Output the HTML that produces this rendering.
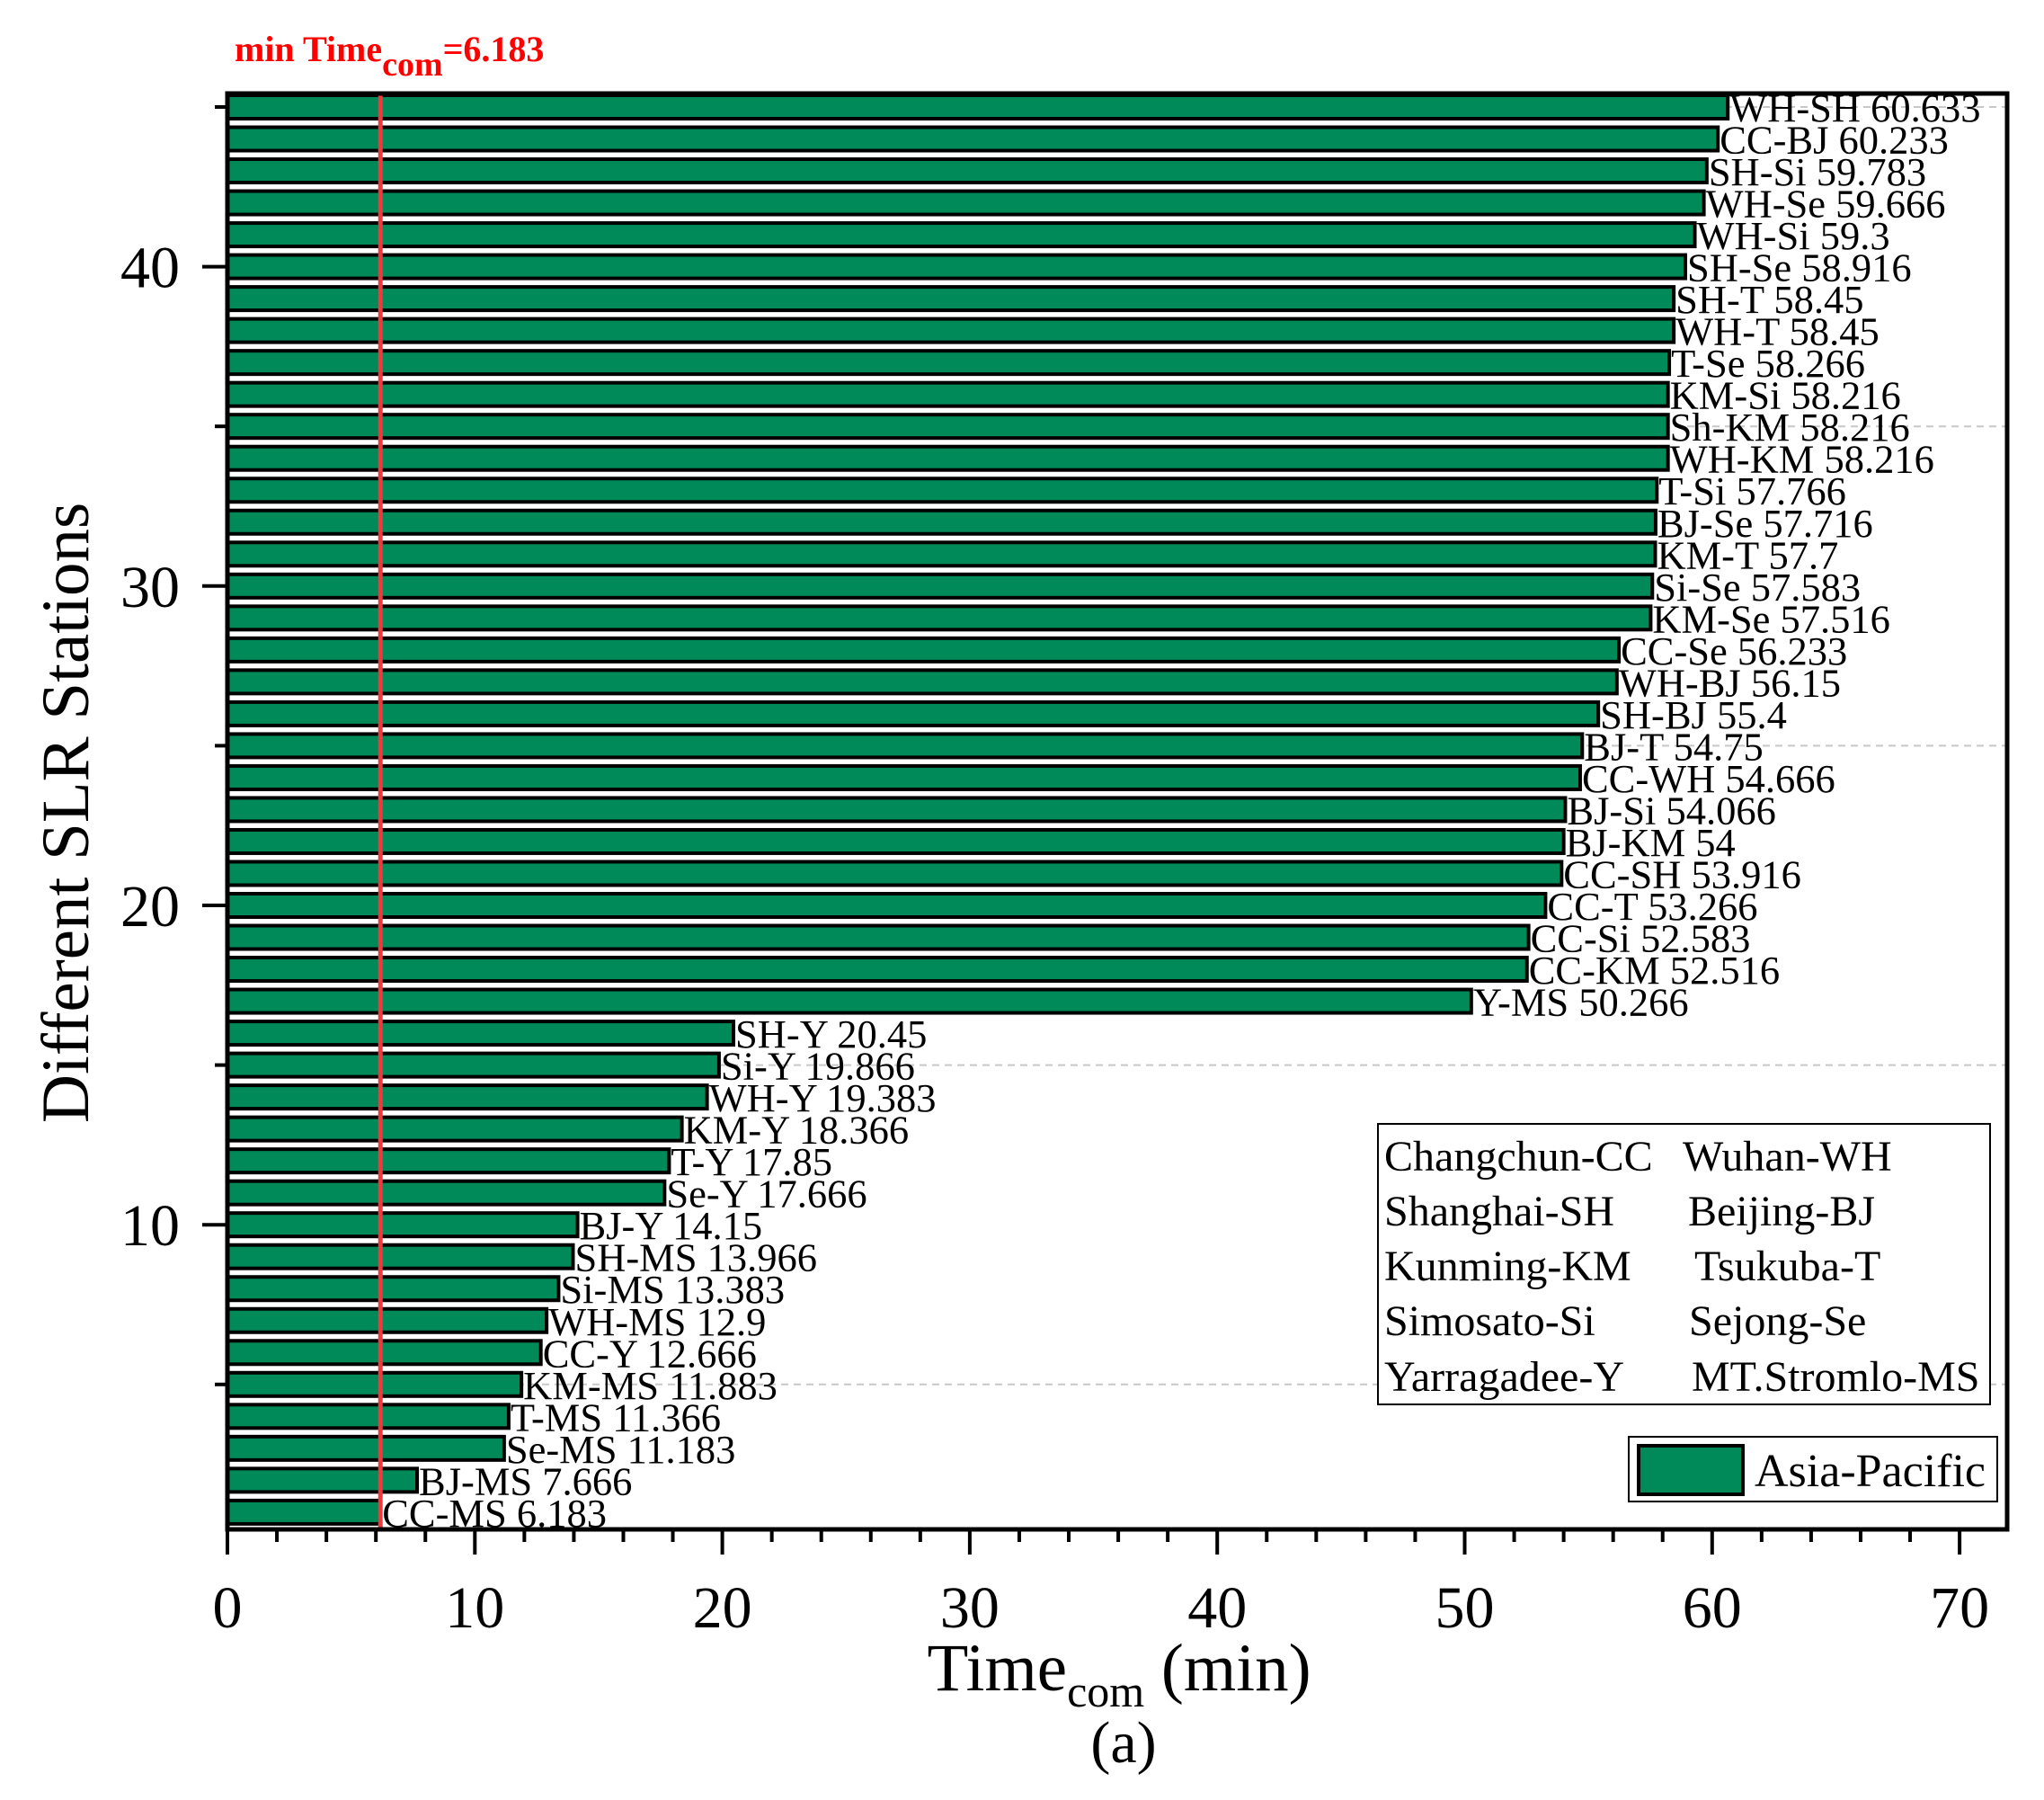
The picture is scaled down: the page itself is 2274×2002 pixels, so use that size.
<!DOCTYPE html>
<html><head><meta charset="utf-8"><style>
html,body{margin:0;padding:0;background:#fff;}
svg{display:block;font-family:"Liberation Serif",serif;}
</style></head><body>
<svg id="chart" width="2274" height="2002" viewBox="0 0 2274 2002">
<g id="grid"></g>
<g id="bars"></g>
<g id="labels"></g>
<g id="axes"></g>
<text x="261" y="68" font-size="40" font-weight="bold" fill="#ff0000">min Time<tspan dy="16" font-size="38">com</tspan><tspan dy="-16">=6.183</tspan></text>
<text x="1245" y="1880" font-size="75" text-anchor="middle">Time<tspan dy="18" font-size="50">com</tspan><tspan dy="-18"> (min)</tspan></text>
<text x="1250" y="1960" font-size="66" text-anchor="middle">(a)</text>
<text transform="translate(98,904) rotate(-90)" font-size="75" text-anchor="middle">Different SLR Stations</text>
<g>
<rect x="1533" y="1250" width="681" height="312" fill="#fff" stroke="#000" stroke-width="2"/>
<g font-size="48">
<text x="1540" y="1302">Changchun-CC</text><text x="1872" y="1302">Wuhan-WH</text>
<text x="1540" y="1363">Shanghai-SH</text><text x="1878" y="1363">Beijing-BJ</text>
<text x="1540" y="1424">Kunming-KM</text><text x="1885" y="1424">Tsukuba-T</text>
<text x="1540" y="1485">Simosato-Si</text><text x="1879" y="1485">Sejong-Se</text>
<text x="1540" y="1547">Yarragadee-Y</text><text x="1882" y="1547">MT.Stromlo-MS</text>
</g></g>
<g>
<rect x="1812" y="1598" width="410" height="72" fill="#fff" stroke="#000" stroke-width="2"/>
<rect x="1823" y="1608" width="116" height="54" fill="#008A5A" stroke="#000" stroke-width="4"/>
<text x="1952" y="1653" font-size="52">Asia-Pacific</text>
</g>
</svg>
<script>
const names = ["WH-SH","CC-BJ","SH-Si","WH-Se","WH-Si","SH-Se","SH-T","WH-T","T-Se","KM-Si","Sh-KM","WH-KM","T-Si","BJ-Se","KM-T","Si-Se","KM-Se","CC-Se","WH-BJ","SH-BJ","BJ-T","CC-WH","BJ-Si","BJ-KM","CC-SH","CC-T","CC-Si","CC-KM","Y-MS","SH-Y","Si-Y","WH-Y","KM-Y","T-Y","Se-Y","BJ-Y","SH-MS","Si-MS","WH-MS","CC-Y","KM-MS","T-MS","Se-MS","BJ-MS","CC-MS"];
const values = [60.633,60.233,59.783,59.666,59.3,58.916,58.45,58.45,58.266,58.216,58.216,58.216,57.766,57.716,57.7,57.583,57.516,56.233,56.15,55.4,54.75,54.666,54.066,54,53.916,53.266,52.583,52.516,50.266,20.45,19.866,19.383,18.366,17.85,17.666,14.15,13.966,13.383,12.9,12.666,11.883,11.366,11.183,7.666,6.183];
const valueText = ["60.633","60.233","59.783","59.666","59.3","58.916","58.45","58.45","58.266","58.216","58.216","58.216","57.766","57.716","57.7","57.583","57.516","56.233","56.15","55.4","54.75","54.666","54.066","54","53.916","53.266","52.583","52.516","50.266","20.45","19.866","19.383","18.366","17.85","17.666","14.15","13.966","13.383","12.9","12.666","11.883","11.366","11.183","7.666","6.183"];
const xTicks = [0,10,20,30,40,50,60,70];
const yTicks = [10,20,30,40];
const minValue = 6.183;

const NS="http://www.w3.org/2000/svg";
const L=253, R=2233, T=104, B=1701;
const xs=v=>L+v*27.53;
const ys=v=>119+(45-v)*35.52;
function mk(tag,attrs,parent){const e=document.createElementNS(NS,tag);for(const k in attrs)e.setAttribute(k,attrs[k]);parent.appendChild(e);return e;}
const grid=document.getElementById('grid'),bars=document.getElementById('bars'),labels=document.getElementById('labels'),axes=document.getElementById('axes');
[5,15,25,35,45].forEach(v=>{
  const g=mk('line',{x1:L,x2:R,y1:ys(v),y2:ys(v),stroke:'#c8c8c8','stroke-width':2,'stroke-dasharray':'8,6'},grid);
  
  
});
const n=values.length;
values.forEach((v,i)=>{
  const pos=n-i;const yc=ys(pos);
  const r=mk('rect',{x:L,y:yc-13,width:xs(v)-L,height:26,fill:'#008A5A',stroke:'#000','stroke-width':4},bars);
  
  
  const t=mk('text',{x:xs(v)+2,y:yc+16,'font-size':44.5},labels);
  t.textContent=names[i]+' '+valueText[i];
  
  
});
const ml=mk('line',{x1:xs(minValue),x2:xs(minValue),y1:T+2,y2:B,stroke:'#ee3a3a','stroke-width':5},axes);


const fr=mk('rect',{x:L,y:T,width:R-L,height:B-T,fill:'none',stroke:'#000','stroke-width':5},axes);


for(let v=0;v<=70;v+=2){
  const major=v%10===0;
  const tk=mk('line',{x1:xs(v),x2:xs(v),y1:B,y2:B+(major?28:14),stroke:'#000','stroke-width':4},axes);
  
  
}
xTicks.forEach(v=>{
  const t=mk('text',{x:xs(v),y:1810,'font-size':66,'text-anchor':'middle'},axes);
  t.textContent=v;
  
  
});
for(let v=5;v<=45;v+=5){
  const major=v%10===0;
  const tk=mk('line',{x1:L,x2:L-(major?28:14),y1:ys(v),y2:ys(v),stroke:'#000','stroke-width':4},axes);
  
  
}
yTicks.forEach(v=>{
  const t=mk('text',{x:200,y:ys(v)+23,'font-size':66,'text-anchor':'end'},axes);
  t.textContent=v;
  
  
});
</script>
</body></html>
